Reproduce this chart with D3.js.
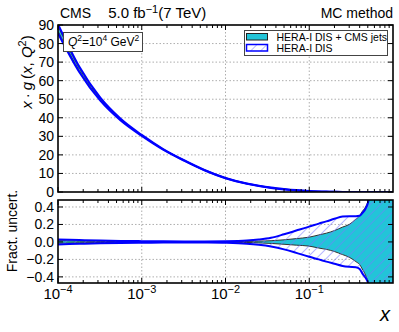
<!DOCTYPE html>
<html>
<head>
<meta charset="utf-8">
<script src="https://cdn.jsdelivr.net/npm/d3@7"></script>
<style>
  body { margin: 0; background: #fff; }
  text { font-family: "Liberation Sans", Arial, sans-serif; fill: #000; }
</style>
</head>
<body>
<div id="chart"></div>
<script>
// gluon at Q^2 = 10^4 GeV^2
const xVals = [1e-4, 1.8e-4, 3.2e-4, 5.6e-4, 1e-3, 1.8e-3, 3.2e-3, 5.6e-3, 0.01, 0.018, 0.025, 0.035, 0.05, 0.07, 0.1,
               0.13, 0.16, 0.2, 0.25, 0.3, 0.36, 0.4, 0.43, 0.47, 0.5, 0.53, 0.6, 0.7, 0.8, 0.9, 1.0];
const xgCentral = [88, 66, 50, 39, 30.5, 23, 17, 11.8, 7.5, 4.5, 3.3, 2.3, 1.5, 0.9, 0.45,
                   0.27, 0.17, 0.1, 0.05, 0.03, 0.015, 0.01, 0.008, 0.005, 0.004, 0.003, 0.002, 0.001, 0.0005, 0.0002, 0];
// fractional uncertainties, HERA-I DIS + CMS jets
const comboUp = [0.015, 0.01, 0.007, 0.005, 0.004, 0.003, 0.003, 0.003, 0.004, 0.006, 0.009, 0.014, 0.024, 0.038, 0.055,
                 0.08, 0.1, 0.13, 0.17, 0.2, 0.26, 0.3, 0.35, 0.4, 0.46, 0.55, 0.8, 1.2, 1.5, 1.5, 1.5];
const comboDn = [-0.015, -0.01, -0.007, -0.005, -0.004, -0.003, -0.003, -0.003, -0.004, -0.006, -0.011, -0.017, -0.027, -0.037, -0.048,
                 -0.07, -0.085, -0.11, -0.145, -0.175, -0.225, -0.26, -0.31, -0.38, -0.45, -0.55, -0.8, -1.2, -1.5, -1.5, -1.5];
// fractional uncertainties, HERA-I DIS
const heraUp = [0.028, 0.022, 0.016, 0.012, 0.009, 0.007, 0.006, 0.006, 0.008, 0.016, 0.028, 0.048, 0.088, 0.13, 0.175,
                0.21, 0.235, 0.265, 0.29, 0.295, 0.295, 0.3, 0.33, 0.38, 0.44, 0.55, 0.9, 1.3, 1.6, 1.6, 1.6];
const heraDn = [-0.028, -0.022, -0.016, -0.012, -0.009, -0.007, -0.006, -0.007, -0.01, -0.02, -0.033, -0.053, -0.085, -0.125, -0.17,
                -0.2, -0.225, -0.25, -0.275, -0.285, -0.29, -0.31, -0.36, -0.41, -0.46, -0.55, -0.9, -1.3, -1.6, -1.6, -1.6];
const topTicks = [0, 10, 20, 30, 40, 50, 60, 70, 80, 90];
const ratioTicks = [-0.4, -0.2, 0.0, 0.2, 0.4];
const xTicks = [1e-4, 1e-3, 1e-2, 1e-1];
const xTickExp = ["\u22124", "\u22123", "\u22122", "\u22121"];

const W = 399, H = 332;
const left = 58, right = 393;
const cyan = "#22c4d8", blue = "#0000ff";

const svg = d3.select("#chart").append("svg")
  .attr("width", W).attr("height", H);

const defs = svg.append("defs");
const pat = defs.append("pattern").attr("id", "hatch")
  .attr("patternUnits", "userSpaceOnUse").attr("width", 7).attr("height", 7)
  .attr("patternTransform", "rotate(45)");
pat.append("line").attr("x1", 0).attr("y1", 0).attr("x2", 0).attr("y2", 7)
  .attr("stroke", "#7878ff").attr("stroke-width", 1.1);

const x = d3.scaleLog().domain([1e-4, 1]).range([left, right]);
const yTop = d3.scaleLinear().domain([0, 90]).range([192, 25]);
const yRat = d3.scaleLinear().domain([-0.47, 0.48]).range([283, 200]);

const rows = xVals.map((v, i) => ({
  x: v, c: xgCentral[i],
  cu: comboUp[i], cd: comboDn[i], hu: heraUp[i], hd: heraDn[i]
}));

function gridLine(g, data, horiz, y, top, bot) {
  g.selectAll(null).data(data).enter().append("line")
    .attr("x1", d => horiz ? left : x(d)).attr("x2", d => horiz ? right : x(d))
    .attr("y1", d => horiz ? y(d) : top).attr("y2", d => horiz ? y(d) : bot)
    .attr("stroke", "#999").attr("stroke-width", 0.8).attr("stroke-dasharray", "1.5,2");
}

function panel(name, y, val, yTicks, fmt) {
  const top = y.range()[1], bot = y.range()[0];
  defs.append("clipPath").attr("id", "clip-" + name)
    .append("rect").attr("x", left).attr("y", top).attr("width", right - left).attr("height", bot - top);
  const g = svg.append("g");
  gridLine(g, name === "top" ? yTicks.slice(1, -1) : yTicks, true, y, top, bot);
  gridLine(g, xTicks.slice(1), false, y, top, bot);

  const band = g.append("g").attr("clip-path", "url(#clip-" + name + ")");
  const curve = d3.curveMonotoneX;
  band.append("path").datum(rows)
    .attr("d", d3.area().curve(curve).x(d => x(d.x)).y0(d => y(val(d, d.cd))).y1(d => y(val(d, d.cu))))
    .attr("fill", cyan);
  ["cu", "cd"].forEach(k => {
    band.append("path").datum(rows)
      .attr("d", d3.line().curve(curve).x(d => x(d.x)).y(d => y(val(d, d[k]))))
      .attr("fill", "none").attr("stroke", "#333").attr("stroke-width", 1);
  });
  band.append("path").datum(rows)
    .attr("d", d3.area().curve(curve).x(d => x(d.x)).y0(d => y(val(d, d.hd))).y1(d => y(val(d, d.hu))))
    .attr("fill", "url(#hatch)");
  ["hu", "hd"].forEach(k => {
    band.append("path").datum(rows)
      .attr("d", d3.line().curve(curve).x(d => x(d.x)).y(d => y(val(d, d[k]))))
      .attr("fill", "none").attr("stroke", blue).attr("stroke-width", 2);
  });

  // ticks, inward on all four sides
  const minor = [];
  for (let e = -4; e < 0; e++) for (let m = 2; m <= 9; m++) minor.push(m * Math.pow(10, e));
  const tk = svg.append("g").attr("stroke", "#000").attr("stroke-width", 1);
  xTicks.forEach(v => {
    tk.append("line").attr("x1", x(v)).attr("x2", x(v)).attr("y1", bot).attr("y2", bot - 5);
    tk.append("line").attr("x1", x(v)).attr("x2", x(v)).attr("y1", top).attr("y2", top + 5);
  });
  minor.forEach(v => {
    tk.append("line").attr("x1", x(v)).attr("x2", x(v)).attr("y1", bot).attr("y2", bot - 3);
    tk.append("line").attr("x1", x(v)).attr("x2", x(v)).attr("y1", top).attr("y2", top + 3);
  });
  yTicks.forEach(v => {
    tk.append("line").attr("x1", left).attr("x2", left + 5).attr("y1", y(v)).attr("y2", y(v));
    tk.append("line").attr("x1", right).attr("x2", right - 5).attr("y1", y(v)).attr("y2", y(v));
  });
  svg.append("g").selectAll("text").data(yTicks).enter().append("text")
    .attr("x", left - 4).attr("y", d => y(d) + 5).attr("text-anchor", "end")
    .attr("font-size", 14).text(fmt);
  svg.append("rect").attr("x", left).attr("y", top).attr("width", right - left).attr("height", bot - top)
    .attr("fill", "none").attr("stroke", "#000").attr("stroke-width", 1.6);
}

panel("top", yTop, (d, u) => d.c * (1 + u), topTicks, d => d);
panel("rat", yRat, (d, u) => u, ratioTicks, d => d3.format(".1f")(d).replace("-", "\u2212"));

// x tick labels
const xl = svg.append("g").selectAll("text").data(xTicks).enter().append("text")
  .attr("x", d => x(d)).attr("y", 299).attr("text-anchor", "middle").attr("font-size", 15);
xl.append("tspan").text("10");
xl.append("tspan").attr("dy", -6).attr("font-size", 11).text((d, i) => xTickExp[i]);

// axis titles
svg.append("text").attr("x", 390).attr("y", 321).attr("text-anchor", "end")
  .attr("font-size", 20).attr("font-style", "italic").text("x");
const yl = svg.append("text").attr("transform", "translate(32,72) rotate(-90)")
  .attr("text-anchor", "middle").attr("font-size", 15);
yl.append("tspan").attr("font-style", "italic").text("x");
yl.append("tspan").text("\u2009\u00b7\u2009");
yl.append("tspan").attr("font-style", "italic").text("g");
yl.append("tspan").text("\u2009(");
yl.append("tspan").attr("font-style", "italic").text("x");
yl.append("tspan").text(", ");
yl.append("tspan").attr("font-style", "italic").text("Q");
yl.append("tspan").attr("dy", -6).attr("font-size", 11).text("2");
yl.append("tspan").attr("dy", 6).text(")");
svg.append("text").attr("transform", "translate(17,231) rotate(-90)")
  .attr("text-anchor", "middle").attr("font-size", 14).text("Fract. uncert.");

// header
const t = svg.append("text").attr("x", 60).attr("y", 18).attr("font-size", 14);
t.append("tspan").text("CMS");
t.append("tspan").attr("dx", 17).attr("font-size", 15).text("5.0 fb");
t.append("tspan").attr("dy", -5).attr("font-size", 11).text("\u22121");
t.append("tspan").attr("dy", 5).attr("font-size", 15).text("(7 TeV)");
svg.append("text").attr("x", 393).attr("y", 18).attr("text-anchor", "end")
  .attr("font-size", 14).text("MC method");

// Q2 box
svg.append("rect").attr("x", 63.5).attr("y", 32.5).attr("width", 79).attr("height", 19)
  .attr("fill", "#fff").attr("stroke", "#444").attr("stroke-width", 1);
const q = svg.append("text").attr("x", 68).attr("y", 46).attr("font-size", 12);
q.append("tspan").attr("font-style", "italic").text("Q");
q.append("tspan").attr("dy", -5).attr("font-size", 8.5).text("2");
q.append("tspan").attr("dy", 5).text("=10");
q.append("tspan").attr("dy", -5).attr("font-size", 8.5).text("4");
q.append("tspan").attr("dy", 5).text(" GeV");
q.append("tspan").attr("dy", -5).attr("font-size", 8.5).text("2");

// legend
const legendNames = ["HERA-I DIS + CMS jets", "HERA-I DIS"];
svg.append("rect").attr("x", 244.5).attr("y", 30.5).attr("width", 143).attr("height", 25)
  .attr("fill", "#fff").attr("stroke", "#444").attr("stroke-width", 1);
const lg = svg.append("g").selectAll("g").data(legendNames).enter().append("g")
  .attr("transform", (d, i) => `translate(246.5,${33.5 + i * 11})`);
lg.append("rect").attr("width", 21).attr("height", 6.5)
  .attr("fill", (d, i) => i === 0 ? cyan : "url(#hatch)")
  .attr("stroke", (d, i) => i === 0 ? "#222" : blue).attr("stroke-width", (d, i) => i === 0 ? 1 : 1.5);
lg.append("text").attr("x", 30).attr("y", 7).attr("font-size", 10.5).text(d => d);
</script>
</body>
</html>
